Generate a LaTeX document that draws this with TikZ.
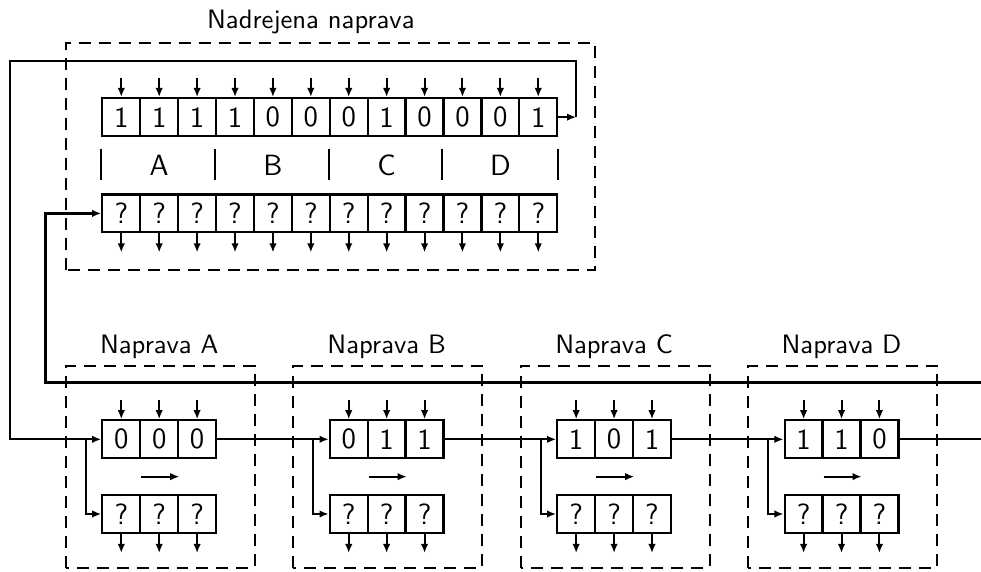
\documentclass[tikz,border=0pt]{standalone}
\usetikzlibrary{arrows.meta,calc}
\begin{document}
\begin{tikzpicture}[x=0.5cm,y=0.5cm,font=\sffamily,
    >={Latex[length=3.4pt,width=2.8pt]},
    cell/.style={draw,line width=0.85pt,minimum width=0.5cm,minimum height=0.5cm,
      inner sep=0pt,font=\sffamily\fontsize{11}{13}\selectfont},
    frame/.style={line width=0.8pt,dash pattern=on 4.5pt off 3pt},
    wire/.style={line width=0.75pt},
    bus/.style={line width=1.1pt}]
  \useasboundingbox (0,0) rectangle (25.88,15.09);

  % master device
  \draw[frame] (1.74,7.97) rectangle (15.70,13.96);
  \node (mtitle) at (8.2,14.51) {Nadrejena naprava};
  \foreach \b [count=\i] in {1,1,1,1,0,0,0,1,0,0,0,1} {
    \node[cell] (m\i) at (2.2+\i,12) {\b};
    \node[cell] (q\i) at (2.2+\i,9.46) {?};
    \draw[wire,->] ([yshift=0.25cm]m\i.north) -- (m\i.north);
    \draw[wire,->] (q\i.south) -- ([yshift=-0.25cm]q\i.south);
  }
  \foreach \i in {1,4,7,10}
    \draw[line width=0.8pt] ([yshift=-0.15cm]m\i.south west) -- ([yshift=0.18cm]q\i.north west);
  \draw[line width=0.8pt] ([yshift=-0.15cm]m12.south east) -- ([yshift=0.18cm]q12.north east);
  \foreach \i/\g in {2/A,5/B,8/C,11/D}
    \node[font=\sffamily\fontsize{11}{13}\selectfont] (g\g) at ($(m\i.south)!0.5!(q\i.north)$) {\g};

  % slave devices
  \foreach \d/\x/\y/\z [count=\k from 0] in {A/0/0/0,B/0/1/1,C/1/0/1,D/1/1/0} {
    \draw[frame] (1.74+6*\k,0.105) rectangle (6.72+6*\k,5.44);
    \node (t\d) at (4.2+6*\k,5.94) {Naprava \d};
    \coordinate (j\d) at (2.27+6*\k,3.5);
    \foreach \b [count=\i] in {\x,\y,\z} {
      \node[cell] (\d\i) at (2.2+6*\k+\i,3.5) {\b};
      \node[cell] (\d q\i) at (2.2+6*\k+\i,1.53) {?};
      \draw[wire,->] ([yshift=0.25cm]\d\i.north) -- (\d\i.north);
      \draw[wire,->] (\d q\i.south) -- ([yshift=-0.25cm]\d q\i.south);
    }
    \draw[wire,->] (j\d) -- (\d1.west);
    \draw[wire,->] (j\d) |- (\d q1.west);
    \draw[wire,->] ($(\d1.south east)!0.5!(\d q1.north east)$)
      -- ($(\d2.south east)!0.5!(\d q2.north east)$);
  }

  % ring and bus
  \coordinate (ret) at (15.2,12);
  \coordinate (corner) at (0.26,13.48);
  \coordinate (out) at (25.88,3.5);
  \coordinate (busR) at (25.88,5.01);
  \draw[wire,->] (m12.east) -- (ret);
  \draw[wire] (ret) |- (corner) |- (jA);
  \draw[wire] (A3.east) -- (jB);
  \draw[wire] (B3.east) -- (jC);
  \draw[wire] (C3.east) -- (jD);
  \draw[wire] (D3.east) -- (out);
  \draw[bus,->] (busR) -| ([xshift=-0.73cm]q1.west) -- (q1.west);
\end{tikzpicture}
\end{document}
